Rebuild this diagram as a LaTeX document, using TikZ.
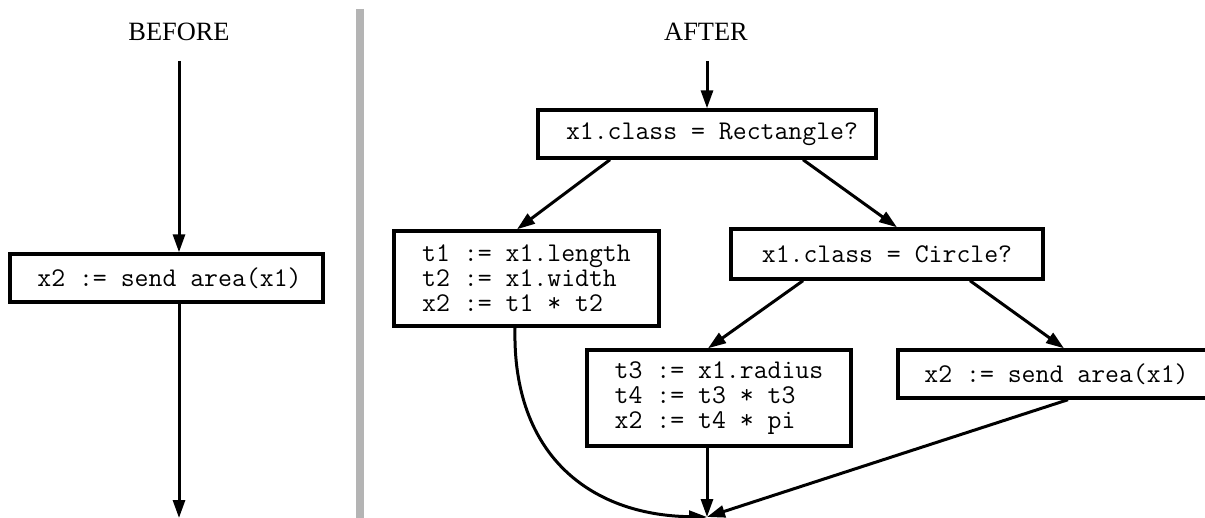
\documentclass[tikz,border=0pt]{standalone}
\usepackage{fontspec}
\setmainfont{Liberation Serif}
\usetikzlibrary{arrows.meta,calc}

\tikzset{
  codebox/.style={draw, line width=1.7pt, fill=white, inner sep=0pt,
    align=left, font=\fontsize{13.5}{12.5}\selectfont\ttfamily},
  flow/.style={line width=1.5pt, -{Triangle[length=9pt,width=6pt]}},
  heading/.style={font=\fontsize{13.2}{15}\selectfont},
  divider/.style={line width=4pt, draw={rgb,255:red,180;green,180;blue,180}}
}

\begin{document}
\begin{tikzpicture}[x=0.5pt,y=-0.5pt]
  \useasboundingbox (0,0) rectangle (1205,518);
  \clip (0,0) rectangle (1205,518);

  % headings and the dividing bar
  \node[heading] (hbefore) at (179,32) {BEFORE};
  \node[heading] (hafter) at (706,32) {AFTER};
  \draw[divider] (360,9) coordinate (divtop) -- (360,518) coordinate (divbot);

  % left side: single call
  \coordinate (bstart) at (179,61);
  \coordinate (bend) at (179,518);
  \node[codebox, minimum width=156.5pt, minimum height=24pt] (bcall) at (166.5,278)
    {\hspace*{3pt}x2 := send area(x1)};
  \draw[flow] (bstart) -- ($(bcall.north)+(12.5,0)$);
  \draw[flow] ($(bcall.south)+(12.5,0)$) -- (bend);

  % right side: type tests
  \coordinate (astart) at (707,61);
  \coordinate (merge) at (707,517);
  \node[codebox, minimum width=169pt, minimum height=24pt] (rect) at (707,134)
    {\hspace*{5pt}x1.class = Rectangle?};
  \node[codebox, minimum width=132.5pt, minimum height=47.5pt] (rbody) at (526.5,278.5)
    {t1 := x1.length\\t2 := x1.width\\x2 := t1 * t2};
  \node[codebox, minimum width=156pt, minimum height=25pt] (circ) at (887,254)
    {x1.class = Circle?};
  \node[codebox, minimum width=132pt, minimum height=48pt] (cbody) at (719,398)
    {t3 := x1.radius\\t4 := t3 * t3\\x2 := t4 * pi};
  \node[codebox, minimum width=158.5pt, minimum height=24pt] (send) at (1056.5,374)
    {x2 := send area(x1)};

  \draw[flow] (astart) -- (rect.north);
  \draw[flow] ($(rect.south)+(-97,0)$) -- ($(rbody.north)+(-9.5,0)$);
  \draw[flow] ($(rect.south)+(96,0)$) -- ($(circ.north)+(10,0)$);
  \draw[flow] ($(circ.south)+(-84,0)$) -- ($(cbody.north)+(-11,0)$);
  \draw[flow] ($(circ.south)+(83,0)$) -- ($(send.north)+(7.5,0)$);

  % joins
  \draw[flow] ($(rbody.south)+(-11.5,0)$) .. controls (512,455) and (590,515) .. (merge);
  \draw[flow] ($(cbody.south)+(-12,0)$) -- (merge);
  \draw[flow] ($(send.south)+(11.5,0)$) -- (merge);
\end{tikzpicture}
\end{document}
